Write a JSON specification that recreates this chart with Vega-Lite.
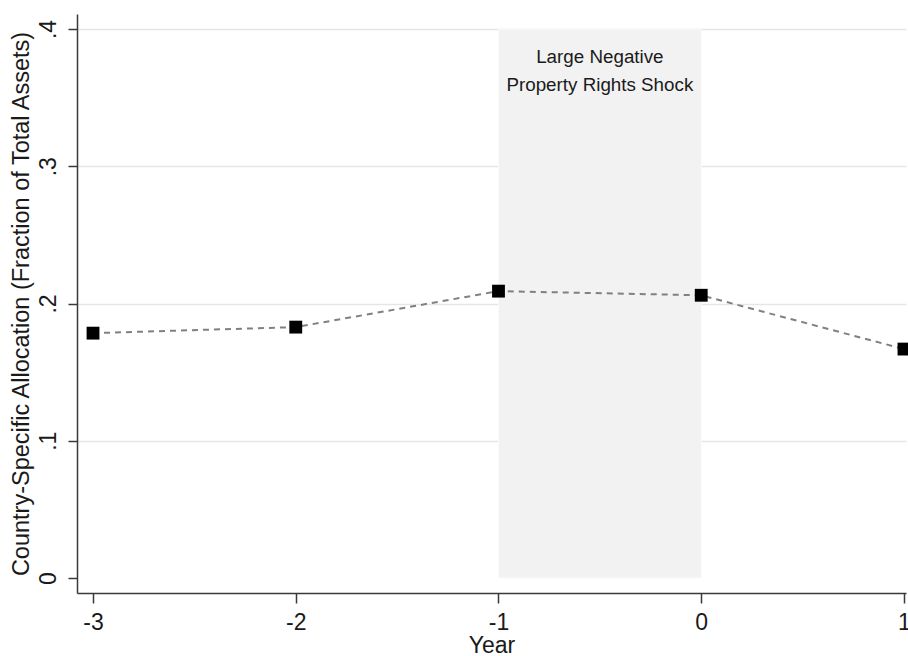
{
  "$schema": "https://vega.github.io/schema/vega-lite/v6.json",
  "width": 829,
  "height": 579,
  "autosize": {"type": "none"},
  "padding": {"left": 77, "top": 14, "right": 2, "bottom": 63},
  "background": "white",
  "config": {
    "view": {"stroke": null},
    "font": "Liberation Sans",
    "axis": {"labelFont": "Liberation Sans", "titleFont": "Liberation Sans", "labelColor": "#1a1a1a", "titleColor": "#1a1a1a", "titleFontWeight": "normal", "domainColor": "#3a3a3a", "domainWidth": 1.5, "tickColor": "#3a3a3a", "tickWidth": 1.5}
  },
  "datasets": {
    "series": [
      {"year": -3, "alloc": 0.1784},
      {"year": -2, "alloc": 0.1828},
      {"year": -1, "alloc": 0.2090},
      {"year": 0, "alloc": 0.2060},
      {"year": 1, "alloc": 0.1668}
    ],
    "shock": [
      {"start": -1, "end": 0, "low": 0, "high": 0.4, "label": ["Large Negative", "Property Rights Shock"], "mid": -0.5, "ypos": 0.3796}
    ]
  },
  "layer": [
    {
      "data": {"name": "shock"},
      "mark": {"type": "rect", "color": "#f2f2f2", "stroke": "#fafafa", "strokeWidth": 1},
      "encoding": {
        "x": {"field": "start", "type": "quantitative", "scale": {"domain": [-3.079, 1.01], "nice": false, "zero": false},
          "axis": {"values": [-3, -2, -1, 0, 1], "title": "Year", "titleFontSize": 23, "titlePadding": 0, "labelFontSize": 23, "labelPadding": 8, "tickSize": 10, "grid": false,
            "labelExpr": "datum.value < 0 ? '-' + format(-datum.value, 'd') : format(datum.value, 'd')", "labelFlush": false}},
        "x2": {"field": "end"},
        "y": {"field": "low", "type": "quantitative", "scale": {"domain": [-0.0109, 0.4109], "nice": false, "zero": false},
          "axis": {"values": [0, 0.1, 0.2, 0.3, 0.4], "title": "Country-Specific Allocation (Fraction of Total Assets)", "titleFontSize": 23.5, "titlePadding": 4, "labelFontSize": 23, "labelAngle": -90, "labelAlign": "center", "labelBaseline": "bottom", "labelPadding": 8, "tickSize": 9,
            "labelExpr": "datum.value == 0 ? '0' : replace(format(datum.value, '.1f'), '0.', '.')",
            "grid": true, "gridColor": "#e6e6e6", "gridWidth": 1.5,
            "gridOpacity": {"condition": {"test": "datum.value === 0", "value": 0}, "value": 1}, "labelFlush": false}},
        "y2": {"field": "high"}
      }
    },
    {
      "data": {"name": "shock"},
      "mark": {"type": "text", "fontSize": 18.8, "color": "#1a1a1a", "lineHeight": 28, "align": "center", "baseline": "middle"},
      "encoding": {
        "x": {"field": "mid", "type": "quantitative"},
        "y": {"field": "ypos", "type": "quantitative"},
        "text": {"field": "label"}
      }
    },
    {
      "data": {"name": "series"},
      "mark": {"type": "line", "color": "#808080", "strokeWidth": 2, "strokeDash": [6, 5]},
      "encoding": {
        "x": {"field": "year", "type": "quantitative"},
        "y": {"field": "alloc", "type": "quantitative"}
      }
    },
    {
      "data": {"name": "series"},
      "mark": {"type": "point", "shape": "square", "filled": true, "color": "#000000", "size": 165, "opacity": 1, "clip": false},
      "encoding": {
        "x": {"field": "year", "type": "quantitative"},
        "y": {"field": "alloc", "type": "quantitative"}
      }
    }
  ]
}
